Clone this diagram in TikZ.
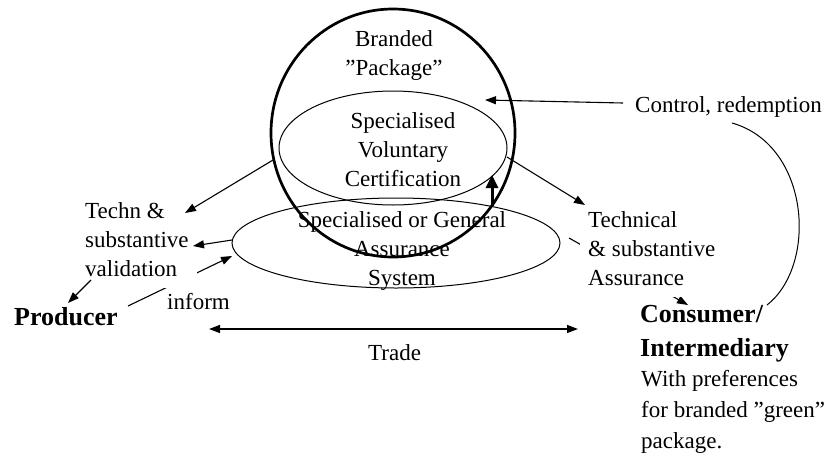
\documentclass[tikz,border=0pt]{standalone}
\usepackage{fontspec}
\setmainfont{Liberation Serif}
\usetikzlibrary{arrows.meta,shapes.geometric,backgrounds}
\newcommand\rsz{\fontsize{23}{29}\selectfont}
\newcommand\rszb{\fontsize{23}{31}\selectfont}
\newcommand\bsz{\fontsize{26}{34}\selectfont\bfseries}
\begin{document}
\begin{tikzpicture}[x=1pt,y=-1pt,
  ring/.style={ellipse, draw, line width=1pt, inner sep=0pt},
  lbl/.style={inner sep=0pt, font=\rsz},
  covered/.style={fill=white, inner xsep=8pt, inner ysep=3pt},
  conn/.style={-{Triangle[length=11pt,width=8pt]}, line width=1.1pt},
  thickconn/.style={-{Triangle[length=13pt,width=12pt]}, line width=3pt},
  tradeconn/.style={{Triangle[length=11pt,width=8pt]}-{Triangle[length=11pt,width=8pt]}, line width=1.4pt}]
\useasboundingbox (0,0) rectangle (827,453);

% shapes
\node[ellipse, draw, line width=2.7pt, minimum width=244pt, minimum height=248pt, inner sep=0pt] (pkg) at (393,133) {};
\node[ring, minimum width=228pt, minimum height=114pt] (svc) at (393,148) {};
\node[ring, minimum width=328pt, minimum height=90pt] (asu) at (396,243) {};

% labels inside
\node[lbl, anchor=base] (branded) at (394,46) {\begin{tabular}[t]{@{}c@{}}Branded\\”Package”\end{tabular}};
\node[lbl, anchor=base] (svctext) at (403,128) {\begin{tabular}[t]{@{}c@{}}Specialised\\Voluntary\\Certification\end{tabular}};
\node[lbl, anchor=base] (asutext) at (402,227) {\begin{tabular}[t]{@{}c@{}}Specialised or General\\Assurance\\System\end{tabular}};

% outer labels
\node[lbl, covered, anchor=base west] (techn) at (77,218) {\begin{tabular}[t]{@{}l@{}}Techn \&\\substantive\\validation\end{tabular}};
\node[lbl, covered, anchor=base west] (technical) at (580,227) {\begin{tabular}[t]{@{}l@{}}Technical\\\& substantive\\Assurance\end{tabular}};
\node[lbl, anchor=base west] (control) at (635,112) {Control, redemption};
\node[lbl, anchor=base west] (inform) at (167,309) {inform};
\node[lbl, font=\bsz, anchor=base west] (producer) at (14,325) {Producer};
\node[lbl, anchor=base west] (trade) at (368,360) {Trade};
\node[lbl, font=\bsz, anchor=base west] (consumer) at (640,322) {\begin{tabular}[t]{@{}l@{}}Consumer/\\Intermediary\end{tabular}};
\node[lbl, font=\rszb, anchor=base west] (prefs) at (641,386) {\begin{tabular}[t]{@{}l@{}}With preferences\\for branded ”green”\\package.\end{tabular}};

% connector end points
\coordinate (ctlA) at (623,103);
\coordinate (ctlB) at (485,100);
\coordinate (curA) at (732,123);
\coordinate (curB) at (767,305);
\coordinate (svcR) at (507,157);
\coordinate (techR) at (585,205);
\coordinate (pkgL) at (273,160);
\coordinate (technTip) at (185,213);
\coordinate (asuL) at (232,240);
\coordinate (subTip) at (193,246);
\coordinate (valA) at (91,280);
\coordinate (prodTip) at (68,303);
\coordinate (infA) at (128,306);
\coordinate (infB) at (232,256);
\coordinate (asuR) at (569,238);
\coordinate (consTip) at (688,305);
\coordinate (upA) at (492,206);
\coordinate (upB) at (492,175);
\coordinate (tradeL) at (209,329);
\coordinate (tradeR) at (578,329);

% visible connectors
\draw[conn] (ctlA) -- (ctlB);
\draw[line width=1pt] (curA) .. controls (810,145) and (818,265) .. (curB);
\draw[conn] (svcR) -- (techR);
\draw[conn] (pkgL) -- (technTip);
\draw[conn] (asuL) -- (subTip);
\draw[conn] (valA) -- (prodTip);
\draw[thickconn] (upA) -- (upB);
\draw[tradeconn] (tradeL) -- (tradeR);

% connectors partly hidden behind labels
\begin{pgfonlayer}{background}
\fill[white] (0,0) rectangle (827,453);
\draw[conn] (infA) -- (infB);
\draw[conn] (asuR) -- (consTip);
\end{pgfonlayer}
\end{tikzpicture}
\end{document}
